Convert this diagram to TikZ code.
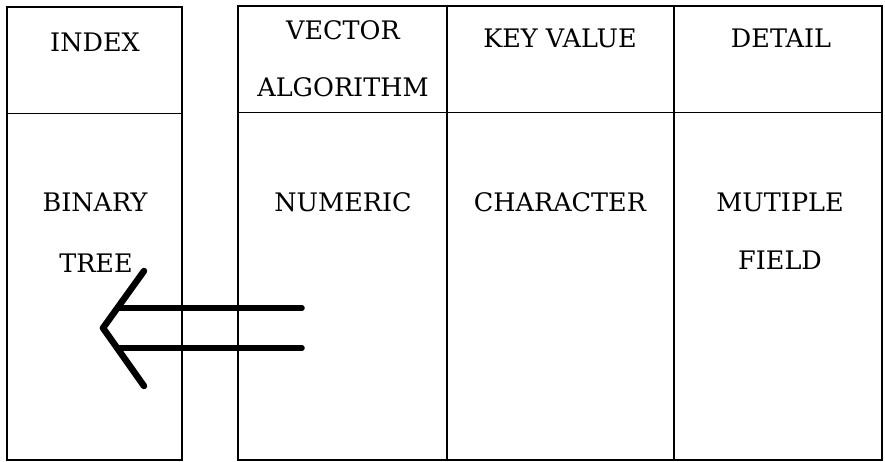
\documentclass[tikz,border=0pt]{standalone}
\usepackage{fontspec}
\setmainfont{DejaVu Serif}
\tikzset{
  cell/.style={inner sep=0pt, anchor=center},
  frame/.style={line width=1.3pt},
  shaft/.style={line width=5.5pt, line cap=round},
  head/.style={line width=6.5pt, line cap=round, line join=round}
}
\begin{document}
\begin{tikzpicture}[x=1pt, y=-1pt]

  \fontsize{25.5}{28}\selectfont

  \newcommand\Ytop{7};
  \newcommand\Ymid{112.5};
  \newcommand\Ybot{460};

  \useasboundingbox (0, 0) rectangle (885, 462);

  %% index box
  \draw[frame] (7, \Ytop) rectangle (182, \Ybot);
  \draw[frame] (7, 113.5) -- (182, 113.5);

  %% main table
  \draw[frame] (238, 6) rectangle (882, \Ybot);
  \draw[frame] (238, \Ymid) -- (882, \Ymid);
  \draw[frame] (447, 6) -- (447, \Ybot);
  \draw[frame] (674, 6) -- (674, \Ybot);

  %% headings
  \node[cell] (index)  at ( 95, 42) {INDEX};
  \node[cell] (vector) at (343, 30) {VECTOR};
  \node[cell] (algo)   at (343, 87) {ALGORITHM};
  \node[cell] (key)    at (560, 38) {KEY VALUE};
  \node[cell] (detail) at (781, 38) {DETAIL};

  %% contents
  \node[cell] (binary)  at ( 95, 202) {BINARY};
  \node[cell] (tree)    at ( 96, 263) {TREE};
  \node[cell] (numeric) at (343, 202) {NUMERIC};
  \node[cell] (char)    at (560, 202) {CHARACTER};
  \node[cell] (mutiple) at (780, 202) {MUTIPLE};
  \node[cell] (field)   at (780, 260) {FIELD};

  %% double arrow
  \coordinate (tip)     at (103, 328);
  \coordinate (wingA)   at (144, 271);
  \coordinate (wingB)   at (144, 386);
  \coordinate (shaftA)  at (302, 308);
  \coordinate (shaftB)  at (302, 348);
  \coordinate (endA)    at (119, 308);
  \coordinate (endB)    at (119, 348);

  \draw[head] (wingA) -- (tip) -- (wingB);
  \draw[shaft] (shaftA) -- (endA);
  \draw[shaft] (shaftB) -- (endB);
\end{tikzpicture}
\end{document}
